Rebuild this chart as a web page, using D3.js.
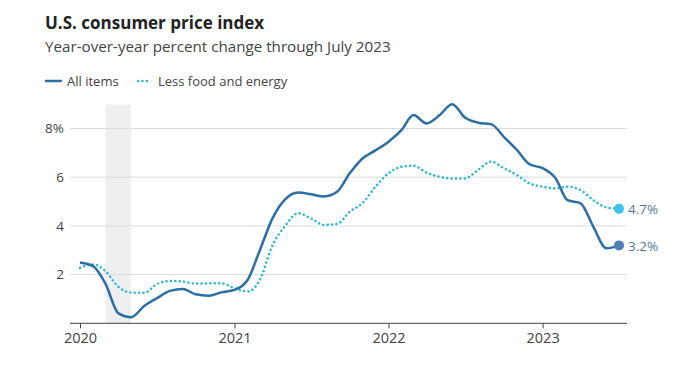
<!DOCTYPE html>
<html>
<head>
<meta charset="utf-8">
<script src="https://cdn.jsdelivr.net/npm/d3@7"></script>
<style>
  body { margin: 0; background: #fff; font-family: "Open Sans", sans-serif; }
  svg text { font-family: "Open Sans", sans-serif; }
</style>
</head>
<body>
<svg id="chart"></svg>
<script>
// monthly values, Jan 2020 .. Jul 2023
var months = d3.range(0, 43).map(i => new Date(2020, i, 1))

var allItems = [2.5, 2.35, 1.64, 0.41, 0.25, 0.71, 1.03, 1.33, 1.41, 1.19, 1.13, 1.27,
  1.37, 1.78, 2.95, 4.31, 5.09, 5.37, 5.3, 5.21, 5.4, 6.16, 6.78, 7.1,
  7.46, 7.94, 8.55, 8.21, 8.53, 9.0, 8.45, 8.24, 8.18, 7.66, 7.12, 6.53,
  6.37, 5.95, 5.06, 4.93, 3.97, 3.08, 3.2]

var lessFoodEnergy = [2.28, 2.42, 2.15, 1.5, 1.26, 1.25, 1.61, 1.74, 1.71, 1.63, 1.64, 1.64,
  1.44, 1.3, 1.75, 3.2, 4.0, 4.52, 4.31, 4.04, 4.08, 4.58, 4.95, 5.61,
  6.16, 6.43, 6.47, 6.19, 6.02, 5.95, 5.95, 6.3, 6.64, 6.37, 6.09, 5.75,
  5.61, 5.54, 5.61, 5.47, 5.06, 4.76, 4.7]

var yTicks = [2, 4, 6, 8]
var xTicks = [2020, 2021, 2022, 2023]
var recession = [new Date(2020, 2, 1), new Date(2020, 4, 1)]

var title = "U.S. consumer price index"
var subtitle = "Year-over-year percent change through July 2023"
var allLabel = "All items"
var coreLabel = "Less food and energy"

const allColor = "#2c6ea6"
const coreColor = "#2bb8d0"

var dimensions = {
  width: 680,
  height: 365,
  left: 70,
  right: 627
}

var svg = d3.select("#chart")
  .attr("width", dimensions.width)
  .attr("height", dimensions.height)

var xScale = d3.scaleTime()
  .domain([new Date(2020, 0, 1), new Date(2023, 6, 1)])
  .range([80, 619])

var yScale = d3.scaleLinear()
  .domain([0, 8])
  .range([323.3, 128.5])

// title block
svg.append("text")
  .attr("x", 45).attr("y", 29)
  .text(title)
  .style("font-size", "17px")
  .style("font-weight", "bold")
  .style("fill", "#222")

svg.append("text")
  .attr("x", 45).attr("y", 51.5)
  .text(subtitle)
  .style("font-size", "15.2px")
  .style("fill", "#444")

// legend
svg.append("line")
  .attr("x1", 45).attr("x2", 62).attr("y1", 81).attr("y2", 81)
  .attr("stroke", allColor).attr("stroke-width", 2.5)
svg.append("text")
  .attr("x", 67).attr("y", 85.5)
  .text(allLabel)
  .style("font-size", "13px").style("fill", "#444")

svg.append("line")
  .attr("x1", 138).attr("x2", 150).attr("y1", 81).attr("y2", 81)
  .attr("stroke", coreColor).attr("stroke-width", 2.5)
  .attr("stroke-linecap", "round")
  .attr("stroke-dasharray", "0.1 4.3")
svg.append("text")
  .attr("x", 158).attr("y", 85.5)
  .text(coreLabel)
  .style("font-size", "13px").style("fill", "#444")

// recession band
svg.append("rect")
  .attr("x", xScale(recession[0]))
  .attr("width", xScale(recession[1]) - xScale(recession[0]))
  .attr("y", 104.5)
  .attr("height", yScale(0) - 104.5)
  .attr("fill", "#efefef")

// grid
svg.selectAll(".grid")
  .data(yTicks)
  .enter()
  .append("line")
  .attr("class", "grid")
  .attr("x1", dimensions.left).attr("x2", dimensions.right)
  .attr("y1", d => yScale(d)).attr("y2", d => yScale(d))
  .attr("stroke", "#dcdcdc").attr("stroke-width", 1)

svg.selectAll(".ylab")
  .data(yTicks)
  .enter()
  .append("text")
  .attr("class", "ylab")
  .attr("x", 64)
  .attr("y", d => yScale(d))
  .attr("dy", "0.35em")
  .attr("text-anchor", "end")
  .text(d => d == 8 ? d + "%" : d)
  .style("font-size", "13.5px").style("fill", "#444")

// x axis
var xAxis = d3.axisBottom(xScale)
  .tickValues(xTicks.map(y => new Date(y, 0, 1)))
  .tickFormat(d3.timeFormat("%Y"))
  .tickSize(5)
  .tickSizeOuter(0)
  .tickPadding(4)

var gx = svg.append("g")
  .attr("transform", "translate(0," + yScale(0) + ")")
  .call(xAxis)
gx.select(".domain").remove()
gx.selectAll(".tick line").attr("stroke", "#444")
gx.selectAll(".tick text").style("font-size", "14.5px").style("fill", "#444")
  .style("font-family", "'Open Sans', sans-serif")
svg.append("line")
  .attr("x1", dimensions.left).attr("x2", dimensions.right)
  .attr("y1", yScale(0)).attr("y2", yScale(0))
  .attr("stroke", "#444").attr("stroke-width", 1)

// lines
var line = d3.line()
  .x((d, i) => xScale(months[i]))
  .y(d => yScale(d))
  .curve(d3.curveMonotoneX)

svg.append("path")
  .datum(lessFoodEnergy)
  .attr("fill", "none")
  .attr("stroke", coreColor)
  .attr("stroke-width", 2.5)
  .attr("stroke-linecap", "round")
  .attr("stroke-dasharray", "0.1 4.3")
  .attr("d", line)

svg.append("path")
  .datum(allItems)
  .attr("fill", "none")
  .attr("stroke", allColor)
  .attr("stroke-width", 2.5)
  .attr("stroke-linejoin", "round")
  .attr("d", line)

// end points
var last = months.length - 1
var ends = [
  { v: lessFoodEnergy[last], color: "#3cc6ec" },
  { v: allItems[last], color: "#4f80b6" }
]

svg.selectAll(".enddot")
  .data(ends)
  .enter()
  .append("circle")
  .attr("class", "enddot")
  .attr("cx", xScale(months[last]))
  .attr("cy", d => yScale(d.v))
  .attr("r", 5)
  .attr("fill", d => d.color)

svg.selectAll(".endlab")
  .data(ends)
  .enter()
  .append("text")
  .attr("class", "endlab")
  .attr("x", 628)
  .attr("y", d => yScale(d.v))
  .attr("dy", "0.4em")
  .text(d => d.v.toFixed(1) + "%")
  .style("font-size", "13.5px").style("fill", "#557795")
</script>
</body>
</html>
